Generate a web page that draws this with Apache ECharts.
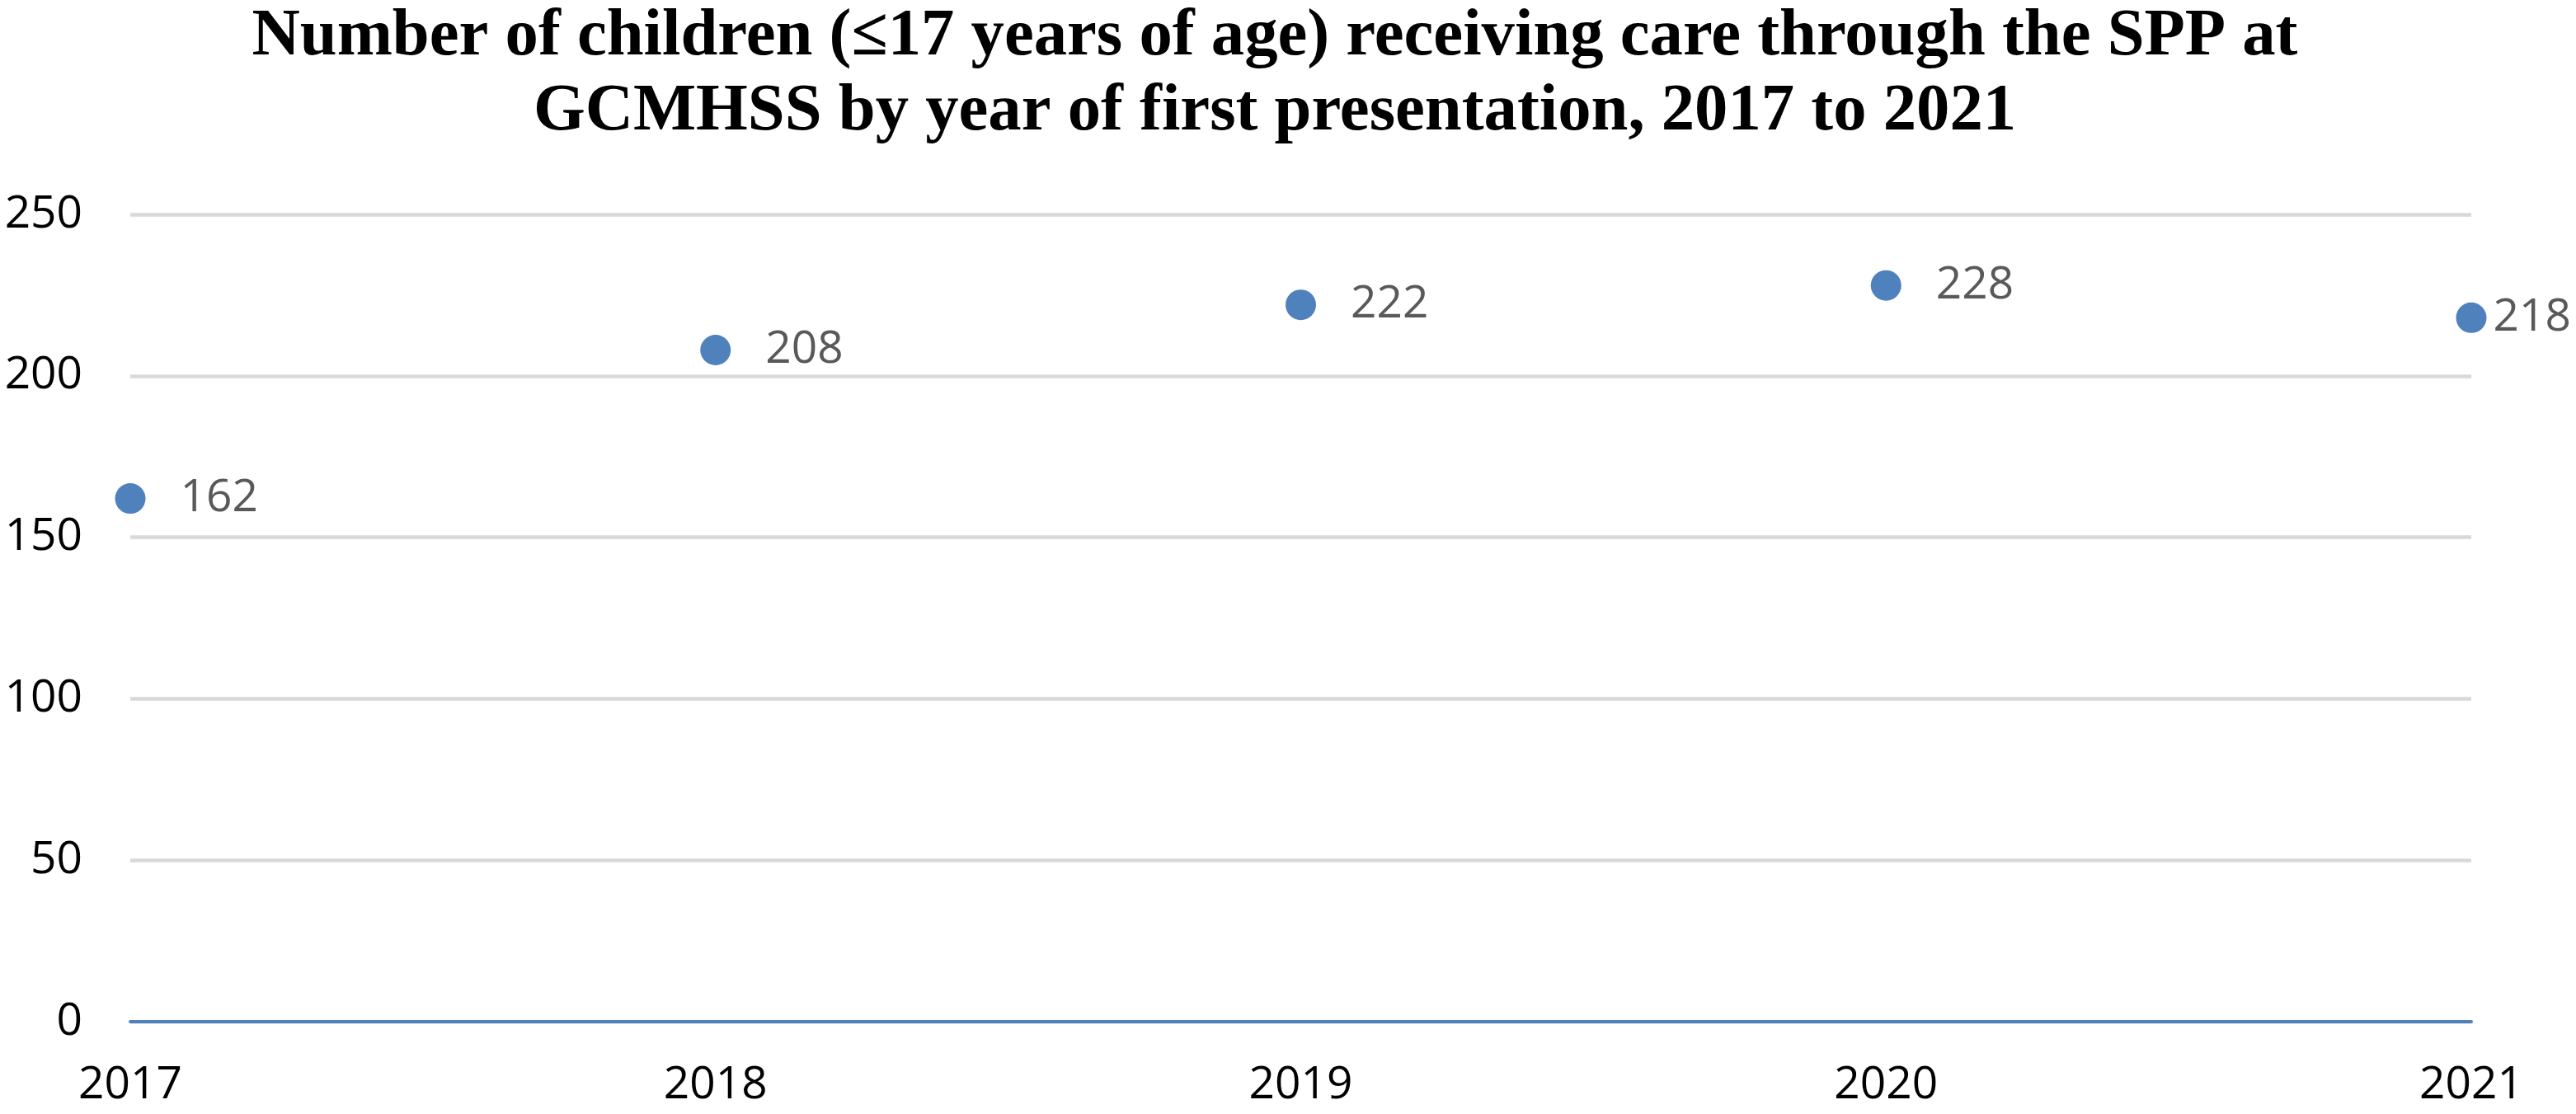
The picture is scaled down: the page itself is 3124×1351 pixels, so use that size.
<!DOCTYPE html>
<html>
<head>
<meta charset="utf-8">
<script src="https://cdn.jsdelivr.net/npm/echarts@6/dist/echarts.min.js"></script>
<style>
html,body{margin:0;padding:0;background:#fff;}
#chart{width:3124px;height:1351px;}
</style>
</head>
<body>
<div id="chart"></div>
<script>
const titleText = 'Number of children (\u226417 years of age) receiving care through the SPP at\nGCMHSS by year of first presentation, 2017 to 2021';
const years = ['2017', '2018', '2019', '2020', '2021'];
const children = [162, 208, 222, 228, 218];
const yTicks = { min: 0, max: 250, interval: 50 };

const chart = echarts.init(document.getElementById('chart'), null, { renderer: 'canvas' });
const labelFont = '"Open Sans", "Noto Sans", sans-serif';

const seriesData = children.map((v, i) => {
  const item = { value: v };
  if (i === children.length - 1) {
    item.label = { distance: 8 };
  }
  return item;
});

chart.setOption({
  backgroundColor: '#ffffff',
  animation: false,
  title: {
    text: titleText,
    left: 1546,
    textAlign: 'center',
    top: -5,
    padding: [5, 0, 5, 0],
    textStyle: {
      fontFamily: '"Liberation Serif", "Times New Roman", serif',
      fontWeight: 'bold',
      fontSize: 80.7,
      lineHeight: 91,
      color: '#000000'
    }
  },
  grid: { left: 158, right: 127, top: 260, bottom: 112, containLabel: false },
  xAxis: {
    type: 'category',
    data: years,
    boundaryGap: false,
    axisLine: { show: true, lineStyle: { color: '#4F81BD', width: 4 } },
    axisTick: { show: false },
    axisLabel: { fontFamily: labelFont, fontSize: 55, color: '#000000', margin: 50 },
    splitLine: { show: false }
  },
  yAxis: {
    type: 'value',
    min: yTicks.min,
    max: yTicks.max,
    interval: yTicks.interval,
    axisLine: { show: false },
    axisTick: { show: false },
    axisLabel: { fontFamily: labelFont, fontSize: 55, color: '#000000', margin: 58 },
    splitLine: { show: true, lineStyle: { color: '#D9D9D9', width: 4.5 } }
  },
  series: [{
    type: 'scatter',
    data: seriesData,
    symbol: 'circle',
    symbolSize: 37,
    itemStyle: { color: '#4F81BD', opacity: 1 },
    label: {
      show: true,
      position: 'right',
      distance: 42,
      fontFamily: labelFont,
      fontSize: 55,
      color: '#595959'
    }
  }]
});
</script>
</body>
</html>
